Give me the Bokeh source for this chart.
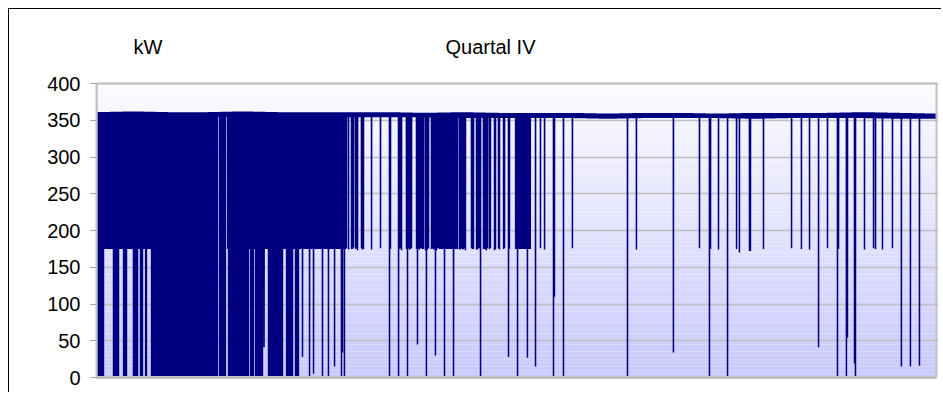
import numpy as np
from bokeh.plotting import figure
from bokeh.models import Range1d, FixedTicker
from bokeh.core.properties import value
from bokeh.embed import file_html
from bokeh.resources import INLINE

# ---------------- data ----------------
title_text = "Quartal IV"
unit_text = "kW"
y_ticks = [0, 50, 100, 150, 200, 250, 300, 350, 400]
days_in_quarter = 92
samples_per_day = 96          # 15-minute readings

# running level of the load (upper / lower edge of the noisy band), every 4 days
base_days = [0, 4, 8, 12, 16, 20, 24, 28, 32, 36, 40, 44, 48, 52, 56, 60,
             64, 68, 72, 76, 80, 84, 88, 92]
base_hi = [361, 362, 361, 361, 362, 361, 361, 361, 361, 360, 361, 360,
           360, 360, 359, 360, 360, 359, 360, 360, 360, 361, 360, 359]
base_lo = [354, 355, 355, 354, 355, 354, 354, 354, 354, 354, 353, 353,
           353, 353, 352, 353, 353, 353, 352, 353, 353, 353, 352, 352]

# periods of constant on/off switching (day from, day to, lowest kW)
block_start = [0.00, 13.47, 14.35, 37.68, 45.89,
               0.00, 1.86, 2.96, 4.05, 4.82, 5.37, 6.02, 6.46, 7.01, 7.45,
               7.89, 8.32, 8.87, 9.97, 13.47, 14.46, 16.87, 17.41, 17.74,
               18.84, 19.38, 19.93, 20.81, 21.79]
block_end = [13.25, 14.13, 27.27, 39.54, 47.53,
             0.77, 2.41, 3.29, 4.49, 5.04, 5.48, 6.35, 6.90, 7.34, 7.78,
             8.21, 8.76, 9.86, 13.25, 14.13, 16.65, 17.19, 17.63, 18.18,
             19.28, 19.82, 20.37, 21.47, 22.12]
block_low = [175, 175, 175, 175, 175,
             0, 0, 0, 0, 0, 0, 0, 0, 0, 0,
             0, 0, 0, 0, 0, 0, 0, 0, 0,
             0, 0, 0, 0, 0]

# single drops of the load (day, lowest kW)
dip_day = [18.35, 22.56, 23.33, 23.77, 24.75, 25.41, 26.07, 26.83, 26.94, 27.16,
           27.38, 27.60, 27.93, 28.15, 28.37, 28.59, 29.02, 29.24, 30.12, 31.10,
           32.09, 32.20, 33.08, 33.30, 33.95, 34.06, 34.28, 34.50, 35.05, 35.16,
           35.38, 35.59, 35.81, 36.03, 36.14, 36.36, 36.69, 36.91, 37.13, 37.35,
           37.57, 38.11, 39.10, 39.76, 39.98, 40.19, 40.41, 41.07, 41.29, 41.62,
           41.84, 42.06, 42.39, 42.60, 42.82, 43.04, 43.59, 44.03, 44.58, 45.12,
           46.11, 47.20, 48.08, 48.63, 49.07, 50.05, 50.16, 51.15, 52.13, 58.16,
           59.14, 63.19, 66.04, 67.14, 67.25, 68.12, 69.11, 70.10, 70.42, 71.52,
           71.63, 73.05, 76.12, 77.21, 78.09, 79.08, 80.06, 81.16, 81.27, 82.14,
           82.25, 83.02, 83.13, 84.11, 85.10, 85.32, 86.08, 87.18, 88.16, 89.15,
           90.14,
           28.04, 28.48, 29.13, 33.19, 33.41, 34.17, 34.39, 35.27, 35.49, 35.70,
           36.25, 36.80, 37.02, 37.24, 37.46, 39.87, 40.08, 40.30, 41.18, 41.73,
           41.95, 42.50, 42.71, 43.15, 43.70, 44.14, 44.69, 45.23]
dip_kw = [41, 28, 0, 5, 0, 0, 15, 0, 34, 0,
          176, 174, 175, 177, 175, 173, 176, 175, 174, 176,
          0, 175, 0, 176, 175, 0, 174, 176, 175, 45,
          174, 176, 175, 173, 0, 176, 175, 174, 30, 176,
          175, 0, 0, 174, 176, 175, 173, 176, 175, 174,
          176, 0, 175, 174, 176, 175, 173, 176, 175, 28,
          0, 27, 15, 176, 174, 0, 110, 0, 176, 0,
          174, 34, 176, 0, 175, 174, 0, 175, 170, 172,
          172, 175, 176, 175, 174, 41, 176, 0, 175, 0,
          54, 19, 0, 174, 176, 175, 174, 176, 15, 15,
          16,
          175, 176, 174, 175, 173, 176, 175, 174, 176, 175,
          174, 176, 175, 173, 176, 175, 174, 176, 175, 174,
          176, 175, 173, 176, 175, 174, 176, 175]

# text positions (day, kW) of the two captions
unit_pos = (4.05, 449)
title_pos = (43.15, 449)

# ---------------- build the 15-minute series ----------------
n = days_in_quarter * samples_per_day + 1
idx = np.arange(n)
t = idx / samples_per_day
hi = np.interp(t, base_days, base_hi)
lo = np.interp(t, base_days, base_lo)
kw = np.where(idx % 2 == 0, hi, lo)
odd = idx % 2 == 1
for s, e, low in zip(block_start, block_end, block_low):
    m = (t >= s) & (t <= e) & odd
    kw[m] = np.minimum(kw[m], low)
for d, low in zip(dip_day, dip_kw):
    k = int(round(d * samples_per_day))
    kw[k] = min(kw[k], low)

# ---------------- layout ----------------
FONT = "Liberation Sans"
AREA_W, AREA_H = 840, 294        # pixel size of the grey-framed plot area
FRAME_W, FRAME_H = 842, 352      # frame also holds the caption strip above the area
y_top = y_ticks[-1] * FRAME_H / AREA_H
x_end = days_in_quarter * FRAME_W / AREA_W

p = figure(frame_width=FRAME_W, frame_height=FRAME_H, output_backend="svg",
           toolbar_location=None,
           x_range=Range1d(0, x_end), y_range=Range1d(y_ticks[0], y_top),
           min_border_left=87, min_border_right=3, min_border_top=16, min_border_bottom=15)
p.styles = {"margin-left": "8px", "margin-top": "8px",
            "border-left": "1px solid #000000", "border-top": "1px solid #000000"}
p.background_fill_color = "white"
p.border_fill_color = "white"
p.outline_line_color = None

# plot-area gradient (white at top -> lavender at bottom)
levels = np.linspace(y_ticks[0], y_ticks[-1], 81)
frac = (levels[:-1] + levels[1:]) / 2 / y_ticks[-1]
top_rgb = np.array([251, 251, 255])
bot_rgb = np.array([201, 201, 253])
cols = ["#%02x%02x%02x" % tuple(int(round(c)) for c in (bot_rgb + (top_rgb - bot_rgb) * f))
        for f in frac]
bg = p.quad(left=0, right=days_in_quarter, bottom=levels[:-1], top=levels[1:],
            fill_color=cols, line_color=None)
bg.level = "image"

p.line(t, kw, line_color="#000080", line_width=1.5)

# grey plot-area frame
p.quad(left=0, right=days_in_quarter, bottom=y_ticks[0], top=y_ticks[-1],
       fill_color=None, line_color="#c0c0c0", line_width=2)

p.xgrid.visible = False
p.ygrid.grid_line_color = "#c0c0c0"
p.ygrid.grid_line_width = 1.5
p.ygrid.bounds = (0, days_in_quarter)

p.xaxis.ticker = FixedTicker(ticks=[])
p.xaxis.bounds = (0, days_in_quarter)
p.xaxis.axis_line_color = "#c0c0c0"
p.xaxis.axis_line_width = 3
p.xaxis.major_tick_line_color = None
p.xaxis.minor_tick_line_color = None

p.yaxis.ticker = FixedTicker(ticks=y_ticks)
p.yaxis.bounds = (y_ticks[0], y_ticks[-1])
p.yaxis.axis_line_color = "#c0c0c0"
p.yaxis.axis_line_width = 2
p.yaxis.major_tick_line_color = "#a0a0a0"
p.yaxis.major_tick_in = 0
p.yaxis.major_tick_out = 6
p.yaxis.minor_tick_line_color = None
p.yaxis.major_label_standoff = 10
p.yaxis.major_label_text_font = FONT
p.yaxis.major_label_text_font_size = "20px"
p.yaxis.major_label_text_color = "#000000"

p.text(x=[unit_pos[0]], y=[unit_pos[1]], text=[unit_text], text_font=value(FONT),
       text_font_size=value("20px"), text_align="left", text_baseline="middle",
       text_color="#000000")
p.text(x=[title_pos[0]], y=[title_pos[1]], text=[title_text], text_font=value(FONT),
       text_font_size=value("20px"), text_align="center", text_baseline="middle",
       text_color="#000000")

open("out.html", "w").write(file_html(p, INLINE))
